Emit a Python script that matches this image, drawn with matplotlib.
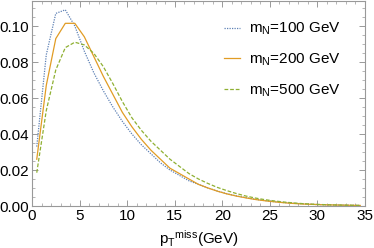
import numpy as np
import matplotlib.pyplot as plt
from matplotlib.ticker import MultipleLocator

# bin centres (GeV)
pt = np.arange(0.5, 35, 1.0)

m100 = [0.033, 0.084, 0.107, 0.109, 0.100, 0.086, 0.074, 0.064, 0.055, 0.047,
        0.040, 0.034, 0.029, 0.024, 0.020, 0.017, 0.014, 0.012, 0.010, 0.0083,
        0.0068, 0.0056, 0.0046, 0.0037, 0.0030, 0.0024, 0.0019, 0.0015, 0.0012, 0.0009,
        0.0007, 0.0006, 0.0005, 0.0004, 0.0003]
m200 = [0.026, 0.067, 0.093, 0.1015, 0.1015, 0.094, 0.083, 0.072, 0.062, 0.052,
        0.044, 0.037, 0.031, 0.026, 0.021, 0.018, 0.015, 0.012, 0.0100, 0.0082,
        0.0067, 0.0055, 0.0045, 0.0036, 0.0029, 0.0023, 0.0018, 0.0014, 0.0011, 0.0009,
        0.0007, 0.0006, 0.0005, 0.0004, 0.0003]
m500 = [0.0185, 0.053, 0.0756, 0.088, 0.091, 0.0895, 0.0848, 0.0774, 0.068, 0.058,
        0.049, 0.042, 0.036, 0.031, 0.026, 0.022, 0.018, 0.015, 0.0125, 0.0103,
        0.0085, 0.0069, 0.0055, 0.0044, 0.0035, 0.0028, 0.0022, 0.0017, 0.0013, 0.0010,
        0.0008, 0.0006, 0.0005, 0.0004, 0.0003]

labels = [r'm$_\mathregular{N}$=100 GeV', r'm$_\mathregular{N}$=200 GeV', r'm$_\mathregular{N}$=500 GeV']

plt.rcParams['font.family'] = ['Liberation Sans', 'DejaVu Sans']
plt.rcParams['mathtext.fontset'] = 'custom'
plt.rcParams['mathtext.rm'] = 'Liberation Sans'
plt.rcParams['mathtext.it'] = 'Liberation Sans'

fig = plt.figure(figsize=(3.74, 2.48), dpi=100)
ax = fig.add_axes([32/374, 42/248, 333/374, 205/248])

ax.plot(pt, m100, color='#5E81B5', ls=(0, (1, 1)), lw=0.9, label=labels[0])
ax.plot(pt, m200, color='#E19C24', ls='-', lw=0.9, label=labels[1])
ax.plot(pt, m500, color='#8FB032', ls=(0, (3, 1.5)), lw=0.9, label=labels[2])

ax.set_xlim(0, 35)
ax.set_ylim(0, 0.1139)
ax.xaxis.set_major_locator(MultipleLocator(5))
ax.xaxis.set_minor_locator(MultipleLocator(1))
ax.yaxis.set_major_locator(MultipleLocator(0.02))
ax.yaxis.set_minor_locator(MultipleLocator(0.005))
ax.yaxis.set_major_formatter(plt.FuncFormatter(lambda v, p: f'{v:.2f}'))

for s in ax.spines.values():
    s.set_color('#999999')
    s.set_linewidth(0.8)
ax.tick_params(which='both', direction='in', top=True, right=True, color='#999999',
               labelsize=11, pad=2)
ax.tick_params(which='major', length=4, width=0.7)
ax.tick_params(which='minor', length=2, width=0.5)

ax.set_xlabel(r'p$_\mathregular{T}$$^\mathregular{miss}$(GeV)', fontsize=11, labelpad=4)

ax.legend(loc='upper right', frameon=False, fontsize=11, handlelength=1.05,
          handletextpad=0.6, labelspacing=0.93, bbox_to_anchor=(0.97, 0.97))

fig.savefig('out.png', dpi=100)
